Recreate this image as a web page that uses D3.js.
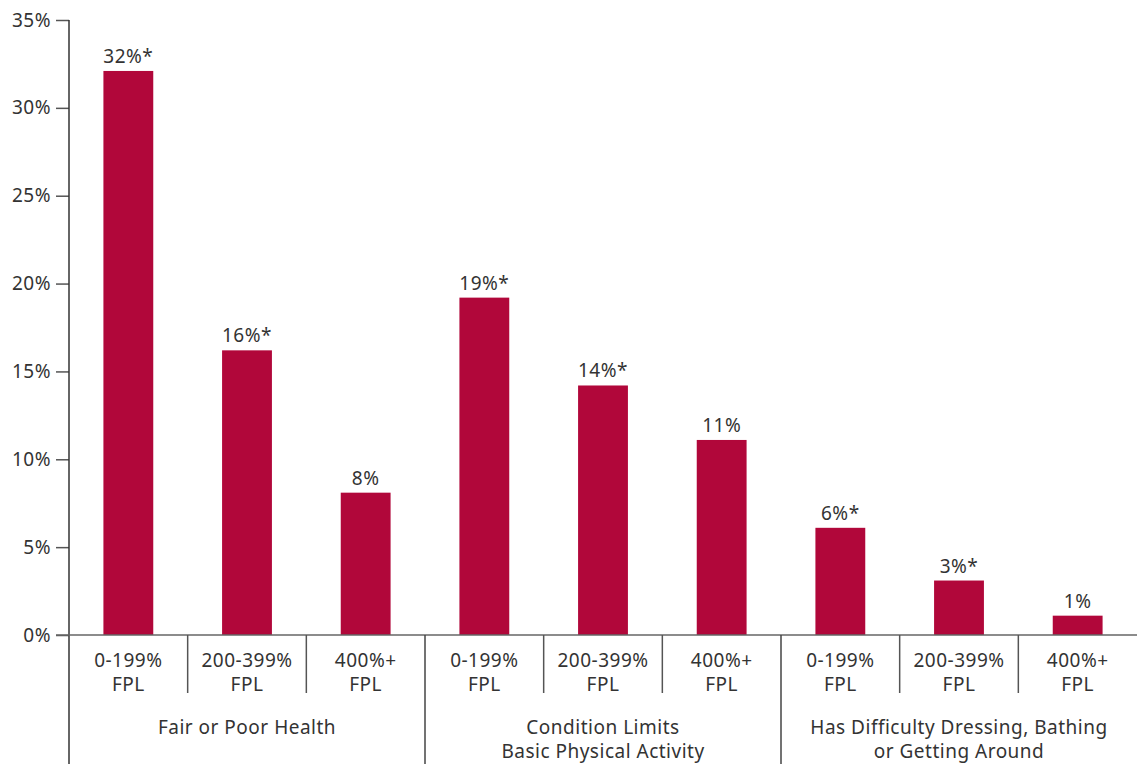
<!DOCTYPE html>
<html>
<head>
<meta charset="utf-8">
<script src="https://cdn.jsdelivr.net/npm/d3@7"></script>
<style>
  body { margin: 0; background: #fff; }
  text { font-family: "Noto Sans", Lato, sans-serif; fill: #333; letter-spacing: 0.5px; }
</style>
</head>
<body>
<script>
// data
var groups = [["Fair or Poor Health"], ["Condition Limits", "Basic Physical Activity"], ["Has Difficulty Dressing, Bathing", "or Getting Around"]];
var incomes = ["0-199%", "200-399%", "400%+"];
var values = [32.1, 16.2, 8.1, 19.2, 14.2, 11.1, 6.1, 3.1, 1.1];
var valueLabels = ["32%*", "16%*", "8%", "19%*", "14%*", "11%", "6%*", "3%*", "1%"];
var yTicks = [0, 5, 10, 15, 20, 25, 30, 35];

var width = 1140, height = 764;
var mLeft = 69, mRight = 1137, mTop = 20, base = 635;
var fontSize = "19px";

var svg = d3.select("body").append("svg")
  .attr("width", width)
  .attr("height", height);

var cats = d3.range(values.length);
var x = d3.scaleBand().domain(cats).range([mLeft, mRight]).paddingInner(0.58).paddingOuter(0.29);
var band = (mRight - mLeft) / values.length;
var y = d3.scaleLinear().domain([0, 35]).range([base, mTop]);

// y axis
var yAxis = d3.axisLeft(y).tickValues(yTicks).tickSize(13).tickPadding(5)
  .tickFormat(function(d) { return d + "%"; });
var ga = svg.append("g").attr("transform", "translate(" + mLeft + ",0)").call(yAxis);
ga.select(".domain").remove();
ga.selectAll(".tick line").attr("stroke", "#555").attr("stroke-width", 1.5);
ga.selectAll(".tick text").attr("font-size", fontSize).attr("fill", "#333")
  .style("font-family", "'Noto Sans', Lato, sans-serif");
svg.append("line").attr("x1", mLeft).attr("x2", mLeft).attr("y1", mTop).attr("y2", height)
  .attr("stroke", "#333").attr("stroke-width", 1.5);

// bars
svg.selectAll("rect.bar").data(values).enter().append("rect")
  .attr("class", "bar")
  .attr("x", function(d, i) { return x(i); })
  .attr("width", x.bandwidth())
  .attr("y", function(d) { return y(d); })
  .attr("height", function(d) { return base - y(d); })
  .attr("fill", "#b1073a");

svg.selectAll("text.val").data(values).enter().append("text")
  .attr("class", "val")
  .attr("x", function(d, i) { return x(i) + x.bandwidth() / 2; })
  .attr("y", function(d) { return y(d) - 8; })
  .attr("text-anchor", "middle")
  .attr("font-size", fontSize)
  .text(function(d, i) { return valueLabels[i]; });

// baseline
svg.append("line").attr("x1", mLeft - 13).attr("x2", mRight).attr("y1", base).attr("y2", base)
  .attr("stroke", "#666").attr("stroke-width", 1.5);

// dividers
for (var i = 1; i < values.length; i++) {
  var xx = mLeft + band * i;
  var isGroup = i % 3 === 0;
  svg.append("line").attr("x1", xx).attr("x2", xx)
    .attr("y1", base).attr("y2", isGroup ? height : 693)
    .attr("stroke", isGroup ? "#444" : "#555").attr("stroke-width", 1.5);
}

// income labels
cats.forEach(function(i) {
  var cx = mLeft + band * (i + 0.5);
  var t = svg.append("text").attr("x", cx).attr("text-anchor", "middle").attr("font-size", fontSize);
  t.append("tspan").attr("x", cx).attr("y", 667).text(incomes[i % 3]);
  t.append("tspan").attr("x", cx).attr("y", 691).text("FPL");
});

// group labels
groups.forEach(function(g, j) {
  var cx = mLeft + band * (j * 3 + 1.5);
  var t = svg.append("text").attr("text-anchor", "middle").attr("font-size", fontSize);
  g.forEach(function(line, k) {
    t.append("tspan").attr("x", cx).attr("y", 734 + k * 24).text(line);
  });
});
</script>
</body>
</html>
